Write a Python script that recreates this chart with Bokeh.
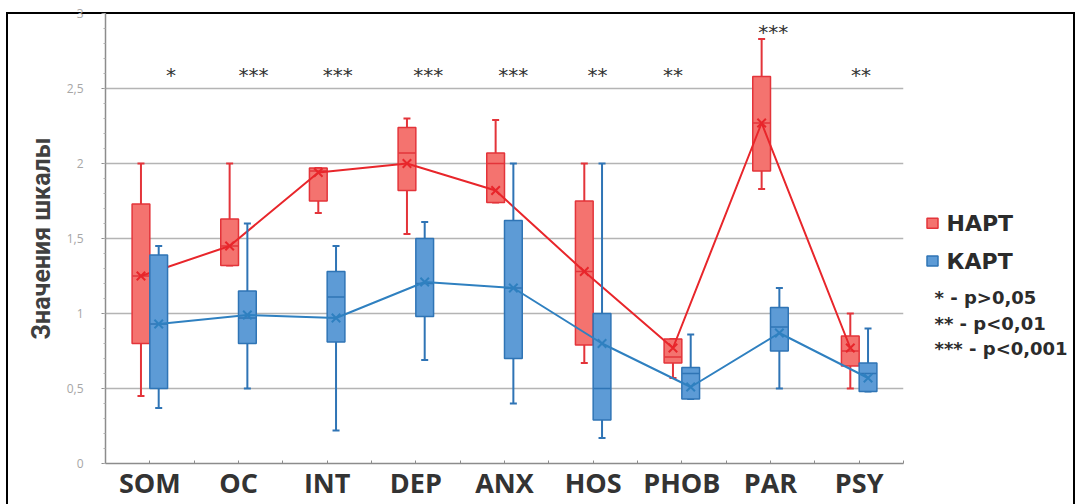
import numpy as np
from bokeh.plotting import figure
from bokeh.layouts import row
from bokeh.models import Range1d, FixedTicker, ColumnDataSource
from bokeh.embed import file_html
from bokeh.resources import INLINE
from bokeh.core.properties import value

# ---------------- data ----------------
categories = ["SOM", "OC", "INT", "DEP", "ANX", "HOS", "PHOB", "PAR", "PSY"]

hart_min  = [0.45, 1.32, 1.67, 1.53, 1.74, 0.67, 0.57, 1.83, 0.50]
hart_q1   = [0.80, 1.32, 1.75, 1.82, 1.74, 0.79, 0.67, 1.95, 0.65]
hart_med  = [1.25, 1.45, 1.95, 2.07, 2.00, 1.28, 0.71, 2.27, 0.75]
hart_q3   = [1.73, 1.63, 1.97, 2.24, 2.07, 1.75, 0.83, 2.58, 0.85]
hart_max  = [2.00, 2.00, 1.97, 2.30, 2.29, 2.00, 0.83, 2.83, 1.00]
hart_mean = [1.25, 1.45, 1.94, 2.00, 1.82, 1.28, 0.77, 2.27, 0.77]

kart_min  = [0.37, 0.50, 0.22, 0.69, 0.40, 0.17, 0.43, 0.50, 0.48]
kart_q1   = [0.50, 0.80, 0.81, 0.98, 0.70, 0.29, 0.43, 0.75, 0.48]
kart_med  = [0.93, 0.97, 1.11, 1.20, 1.17, 0.50, 0.60, 0.91, 0.60]
kart_q3   = [1.39, 1.15, 1.28, 1.50, 1.62, 1.00, 0.64, 1.04, 0.67]
kart_max  = [1.45, 1.60, 1.45, 1.61, 2.00, 2.00, 0.86, 1.17, 0.90]
kart_mean = [0.93, 0.99, 0.97, 1.21, 1.17, 0.80, 0.51, 0.87, 0.57]

significance = ["*", "***", "***", "***", "***", "**", "**", "***", "**"]

y_tick_values = [0, 0.5, 1, 1.5, 2, 2.5, 3]
y_tick_labels = ["0", "0,5", "1", "1,5", "2", "2,5", "3"]

series_names = ["НАРТ", "КАРТ"]
note_labels = ["* - p>0,05", "** - p<0,01", "*** - p<0,001"]
y_title = "Значения шкалы"

# ---------------- style / layout ----------------
star_dx = [0.24, 0.17, 0.12, 0.14, 0.10, 0.05, -0.10, 0.03, 0.02]
star_y = [2.59, 2.59, 2.59, 2.59, 2.59, 2.59, 2.59, 2.88, 2.59]

RED_FILL, RED_LINE, RED_MEAN = "#f4736f", "#e3343a", "#e8262b"
BLUE_FILL, BLUE_LINE, BLUE_MEAN = "#5d9bd6", "#2f74b5", "#2f80c0"

n = len(categories)
xc = np.arange(n) + 0.5
off = 0.1
bw = 0.2

p = figure(width=902, height=500, output_backend="svg", toolbar_location=None,
           x_range=Range1d(0, n), y_range=Range1d(0, 3),
           min_border_left=99, min_border_right=5, min_border_top=9,
           min_border_bottom=41)
p.outline_line_color = None
p.background_fill_alpha = 0
p.border_fill_alpha = 0

def draw_series(xs, mn, q1, md, q3, mx, mean, fill, line, meancol):
    src = ColumnDataSource(dict(x=xs, mn=mn, q1=q1, md=md, q3=q3, mx=mx, mean=mean))
    p.segment(x0="x", y0="q3", x1="x", y1="mx", source=src, line_color=line, line_width=2)
    p.segment(x0="x", y0="q1", x1="x", y1="mn", source=src, line_color=line, line_width=2)
    p.scatter(x="x", y="mx", source=src, marker="dash", size=7, line_color=line, line_width=2)
    p.scatter(x="x", y="mn", source=src, marker="dash", size=7, line_color=line, line_width=2)
    p.vbar(x="x", width=bw, bottom="q1", top="q3", source=src,
           fill_color=fill, line_color=line, line_width=1.5)
    p.scatter(x="x", y="md", source=src, marker="dash", size=17, line_color=line, line_width=1.5)
    p.line(x="x", y="mean", source=src, line_color=meancol, line_width=2)
    p.scatter(x="x", y="mean", source=src, marker="x", size=12, line_color=meancol, line_width=2)

draw_series(xc - off, hart_min, hart_q1, hart_med, hart_q3, hart_max, hart_mean,
            RED_FILL, RED_LINE, RED_MEAN)
draw_series(xc + off, kart_min, kart_q1, kart_med, kart_q3, kart_max, kart_mean,
            BLUE_FILL, BLUE_LINE, BLUE_MEAN)

# significance stars
p.text(x=xc + np.array(star_dx), y=star_y, text=significance,
       text_font=value("DejaVu Sans"), text_font_size="20px", text_color="#333333",
       text_align="center", text_baseline="middle")

# axes
p.xaxis.ticker = FixedTicker(ticks=list(xc), minor_ticks=list(np.arange(n + 1)))
p.xaxis.major_label_overrides = {float(x): c for x, c in zip(xc, categories)}
p.xaxis.major_label_text_font = "Open Sans"
p.xaxis.major_label_text_font_style = "bold"
p.xaxis.major_label_text_font_size = "27px"
p.xaxis.major_label_text_color = "#333333"
p.xaxis.major_label_standoff = 0
p.xaxis.axis_line_color = "#8c8c8c"
p.xaxis.axis_line_width = 1.5
p.xaxis.major_tick_in = 3
p.xaxis.major_tick_out = 0
p.xaxis.minor_tick_in = 3
p.xaxis.minor_tick_out = 0
p.xaxis.major_tick_line_color = "#8c8c8c"
p.xaxis.minor_tick_line_color = "#8c8c8c"

p.yaxis.ticker = FixedTicker(ticks=y_tick_values,
                             minor_ticks=list(np.round(np.arange(0, 3.01, 0.1), 2)))
p.yaxis.major_label_overrides = {float(v): l for v, l in zip(y_tick_values, y_tick_labels)}
p.yaxis.major_label_text_font = "Open Sans"
p.yaxis.major_label_text_font_size = "12px"
p.yaxis.major_label_text_color = "#a6a6a6"
p.yaxis.major_label_standoff = 18
p.yaxis.axis_line_color = "#8c8c8c"
p.yaxis.axis_line_width = 1.5
p.yaxis.major_tick_in = 0
p.yaxis.major_tick_out = 4
p.yaxis.minor_tick_in = 0
p.yaxis.minor_tick_out = 2
p.yaxis.major_tick_line_color = "#8c8c8c"
p.yaxis.minor_tick_line_color = "#b0b0b0"
p.yaxis.axis_label = y_title
p.yaxis.axis_label_text_font = "Roboto"
p.yaxis.axis_label_text_font_style = "bold"
p.yaxis.axis_label_text_font_size = "25px"
p.yaxis.axis_label_text_color = "#404040"
p.yaxis.axis_label_standoff = 8

p.xgrid.grid_line_color = None
p.ygrid.grid_line_color = "#b4b4b4"
p.ygrid.grid_line_width = 1.5

# ---------------- legend panel (separate figure, pixel-like coordinates) ----------------
lg = figure(width=167, height=500, output_backend="svg", toolbar_location=None,
            x_range=Range1d(0, 167), y_range=Range1d(500, 0),
            min_border=0, x_axis_type=None, y_axis_type=None)
lg.outline_line_color = None
lg.grid.grid_line_color = None
lg.background_fill_alpha = 0
lg.border_fill_alpha = 0

leg_y = [233, 275]
lg.rect(x=[24, 24], y=leg_y, width=11, height=11,
        fill_color=[RED_FILL, BLUE_FILL], line_color=[RED_LINE, BLUE_LINE], line_width=1.5)
lg.text(x=[38, 38], y=leg_y, text=series_names, text_font=value("DejaVu Sans"),
        text_font_style="bold", text_font_size="22px", text_color="#2b2b2b",
        text_baseline="middle", text_align="left")
lg.text(x=[26, 26, 26], y=[316, 344, 372], text=note_labels, text_font=value("DejaVu Sans"),
        text_font_style="bold", text_font_size="18px", text_color="#2b2b2b",
        text_baseline="middle", text_align="left")

frame_css = ("linear-gradient(#000,#000) left 0 top 8px / 100% 2px no-repeat, "
             "linear-gradient(#000,#000) left 0 top 8px / 2px 100% no-repeat, "
             "linear-gradient(#000,#000) right 0 top 8px / 2px 100% no-repeat, white")
layout = row(p, lg, margin=(4, 0, 0, 6), styles={"background": frame_css})

open("out.html", "w").write(file_html(layout, INLINE))
